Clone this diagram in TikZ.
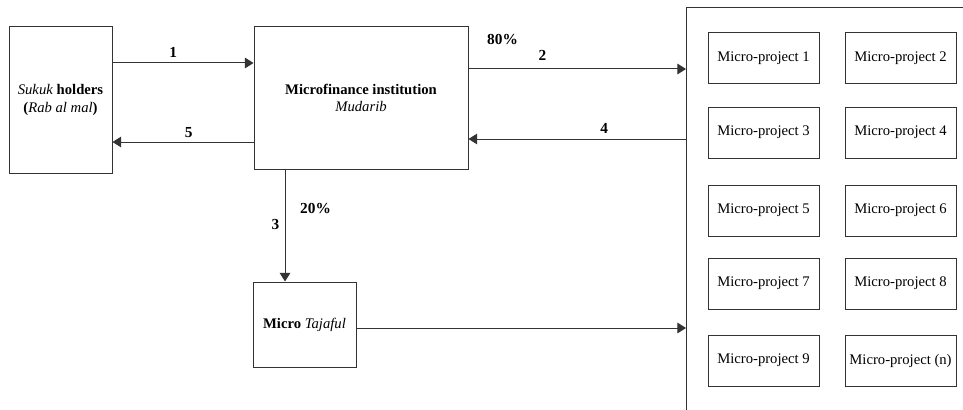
\documentclass[tikz,border=0pt]{standalone}
\usepackage{fontspec}
\setmainfont{Liberation Serif}
\usetikzlibrary{arrows.meta,positioning}
\begin{document}
\begin{tikzpicture}[x=0.75pt,y=-0.75pt,font=\fontsize{11}{13}\selectfont] % sukuk scheme
\tikzstyle{mybox} = [draw=black!80, line width=0.75pt, rectangle, align=center, inner sep=2pt] % box style
\tikzstyle{myproj} = [mybox, minimum width=111*0.75pt, minimum height=51*0.75pt] % micro-project style
\tikzstyle{myarrow} = [draw=black!80, line width=0.75pt, -{Triangle[length=6.5pt,width=8pt]}] % connector style
\tikzstyle{mylab} = [font=\fontsize{11.5}{13}\selectfont\bfseries, inner sep=1pt] % label style
\useasboundingbox (0,0) rectangle (963,410);
%
\node[mybox, minimum width=103*0.75pt, minimum height=146*0.75pt] (sukuk) at (60.5,100)
  {\textit{Sukuk} \textbf{holders}\\\textbf{(}\textit{Rab al mal}\textbf{)}};
\node[mybox, minimum width=214*0.75pt, minimum height=142*0.75pt] (mfi) at (361,98)
  {\textbf{Microfinance institution}\\\textit{Mudarib}};
\node[mybox, minimum width=103*0.75pt, minimum height=85*0.75pt] (tajaful) at (304.5,324.5)
  {\textbf{Micro} \textit{Tajaful}};
\node[mybox, minimum width=320*0.75pt, minimum height=440*0.75pt, anchor=north west] (proj) at (686,7) {};
%
\foreach \r/\y in {0/58,1/132.5,2/210.5,3/283.5} {
  \pgfmathtruncatemacro{\a}{2*\r+1}
  \pgfmathtruncatemacro{\b}{2*\r+2}
  \node[myproj] (p\a) at (763.5,\y) {Micro-project \a};
  \node[myproj] (p\b) at (900.5,\y) {Micro-project \b};
}
\node[myproj] (p9) at (763.5,360.5) {Micro-project 9};
\node[myproj] (pn) at (900.5,360.5) {Micro-project (n)};
%
\draw[myarrow] (sukuk.east |- 0,63) -- node[mylab, pos=0.43, above=3pt] {1} (mfi.west |- 0,63);
\draw[myarrow] (mfi.west |- 0,142) -- node[mylab, pos=0.46, above=2pt] {5} (sukuk.east |- 0,142);
\draw[myarrow] (mfi.east |- 0,69) -- node[mylab, pos=0.34, above=5pt] (two) {2} (proj.west |- 0,69);
\node[mylab, above left=2pt and 13pt of two] {80\%};
\draw[myarrow] (proj.west |- 0,139) -- node[mylab, pos=0.376, above=3pt] {4} (mfi.east |- 0,139);
\draw[myarrow] (285,0 |- mfi.south) -- node[mylab, pos=0.49, left=3pt] {3}
  node[mylab, pos=0.35, right=10pt] {20\%} (285,0 |- tajaful.north);
\draw[myarrow] (tajaful.east |- 0,328) -- (proj.west |- 0,328);
\end{tikzpicture}
\end{document}
